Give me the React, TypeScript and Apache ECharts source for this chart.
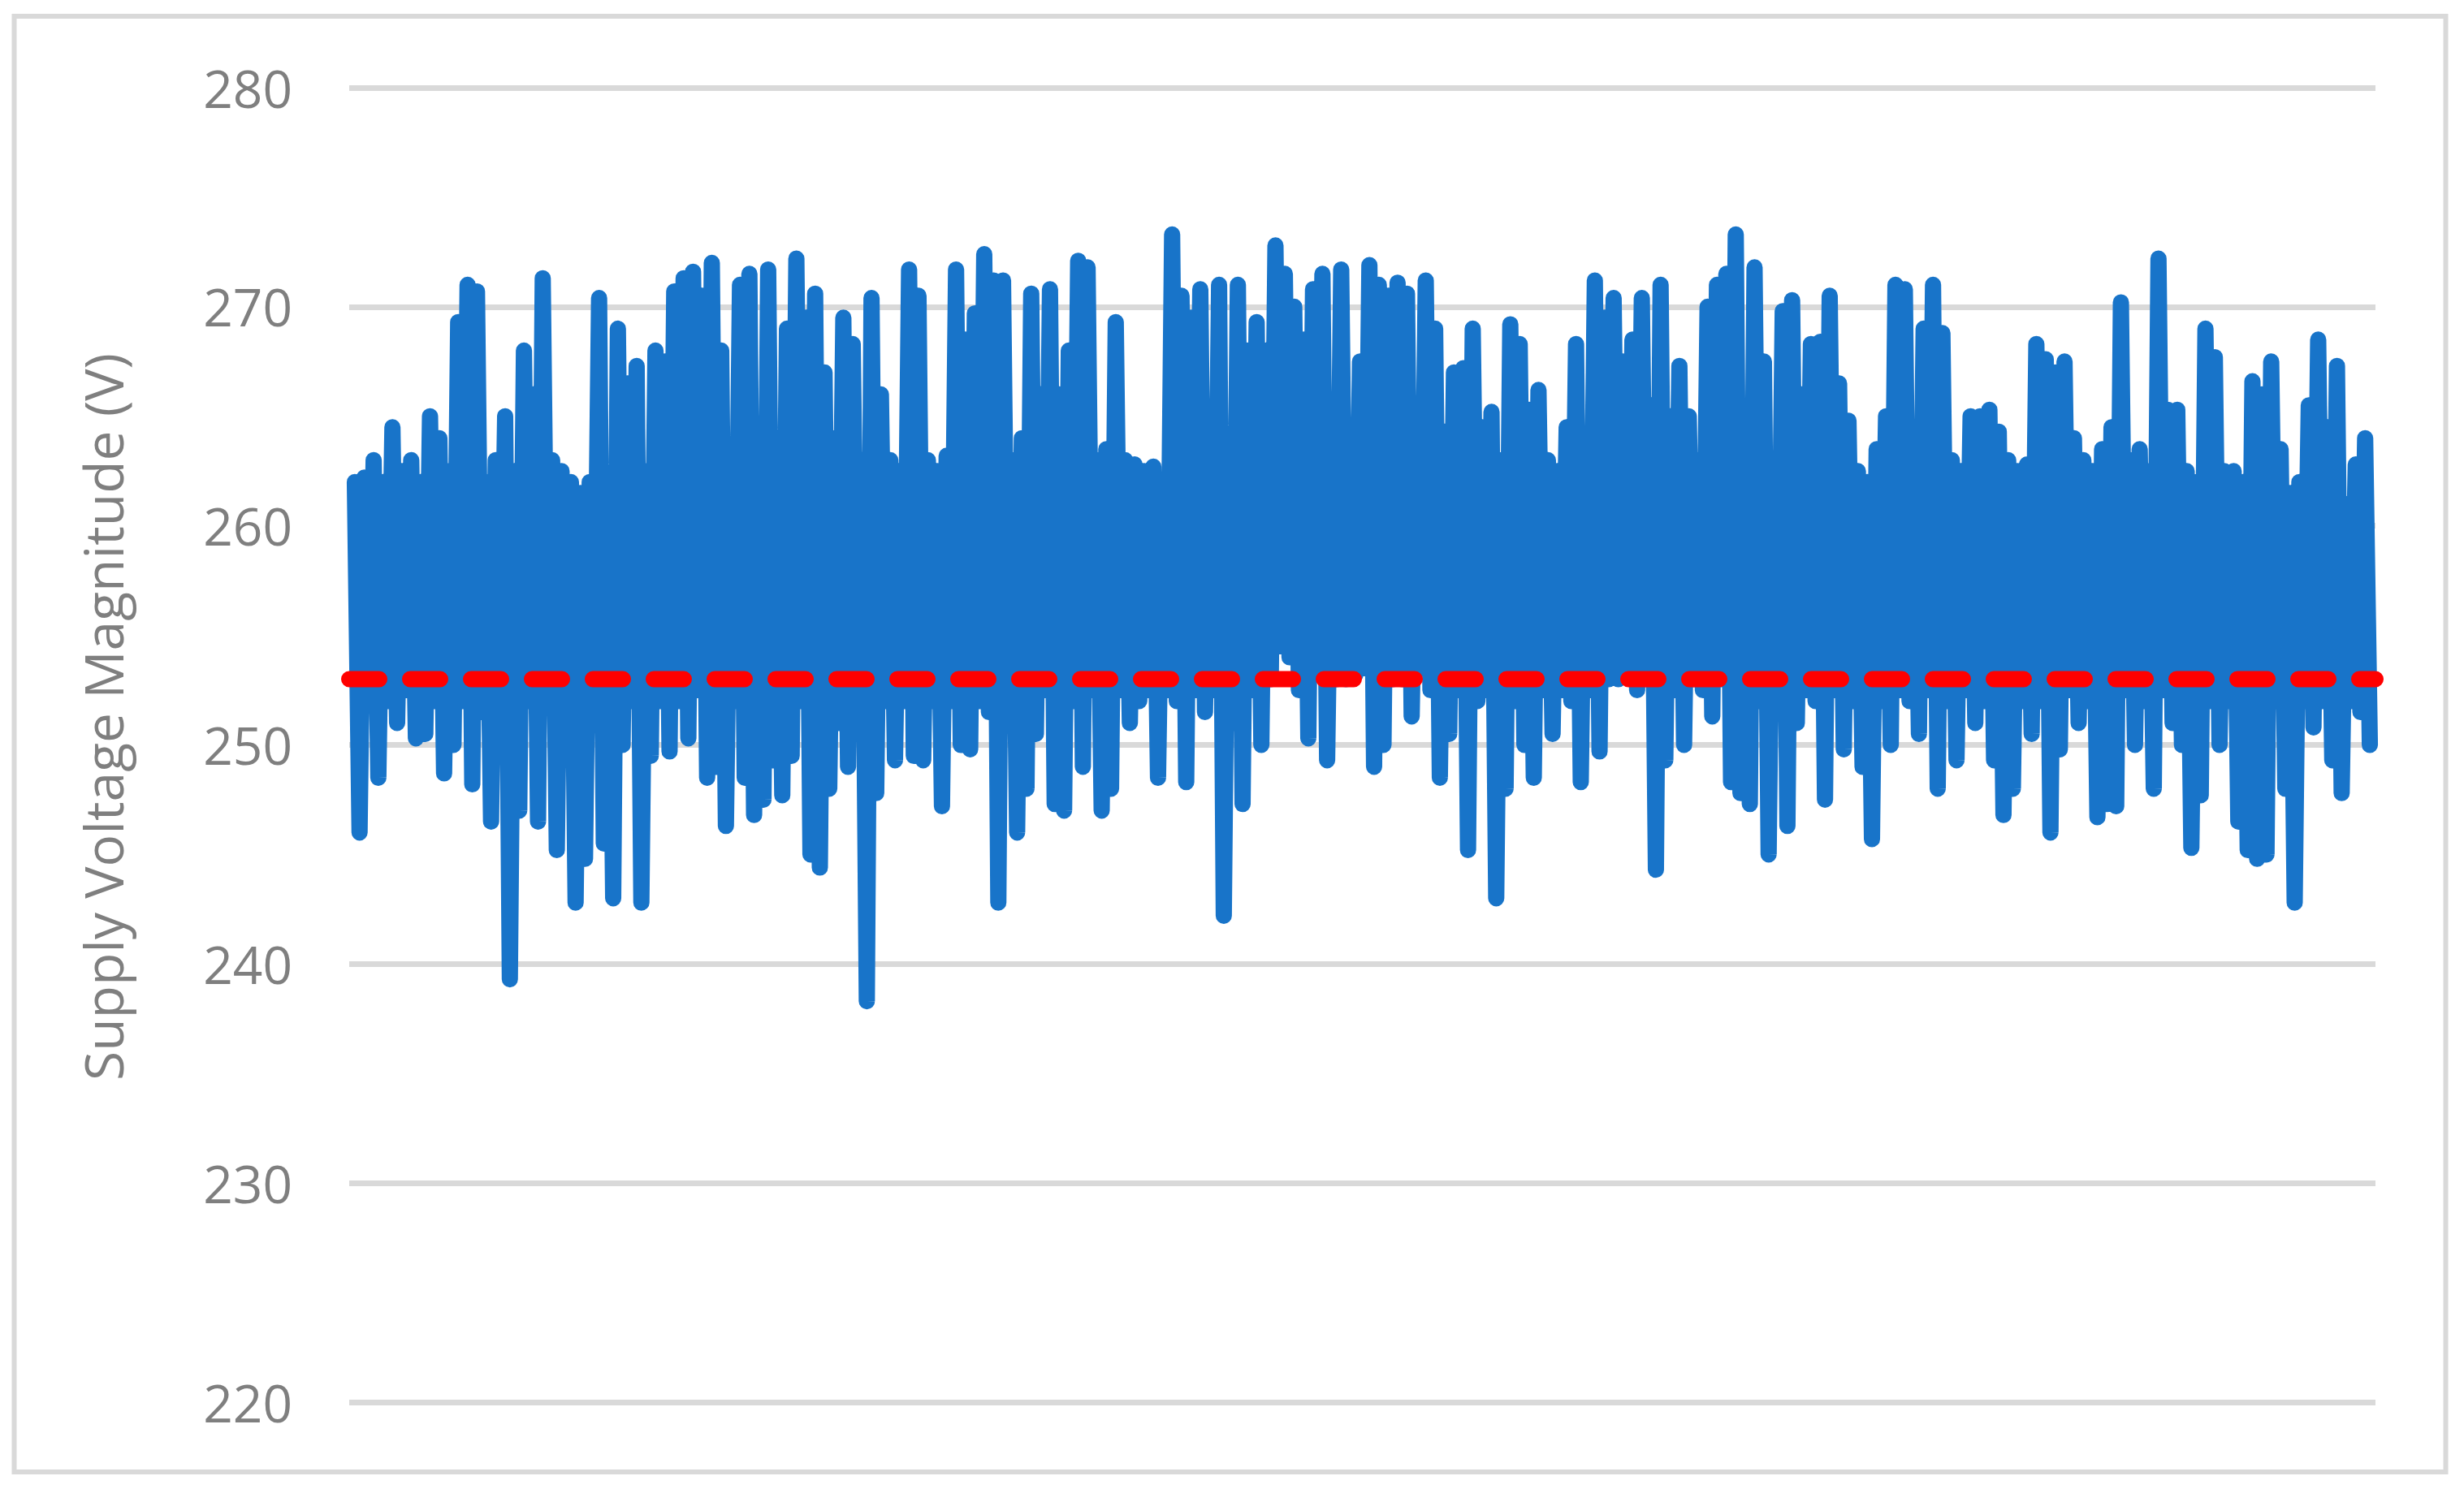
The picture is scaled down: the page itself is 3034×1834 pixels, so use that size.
import React, { useEffect, useRef } from "react";
import * as echarts from "echarts";

// Upper extremes of the oscillation, read left to right
const peaks: number[] = [
  262, 262.2, 263, 262, 264.5, 262.5, 263, 262, 265, 264,
  262.5, 269.3, 271, 270.7, 262, 263, 265, 262.5, 268, 266,
  271.3, 263, 262.5, 262, 261.5, 262, 270.4, 262, 269, 266.5,
  267.3, 262.5, 268, 267.5, 270.7, 271.3, 271.6, 270.5, 272, 268,
  262, 271, 271.5, 263, 271.7, 263, 269, 272.2, 269.5, 270.6,
  267, 264, 269.5, 268.3, 263, 270.4, 266, 263, 262.5, 271.7,
  270.5, 263, 262.5, 263.2, 271.7, 268.5, 269.7, 272.4, 271.2, 271.2,
  263, 264, 270.6, 266, 270.8, 266, 268, 272.1, 271.8, 263,
  263.5, 269.3, 263, 262.8, 262.5, 262.7, 262, 273.3, 270.5, 269.5,
  270.8, 264, 271, 264, 271, 268, 269.3, 268, 272.8, 271.5,
  270, 268.5, 270.8, 271.5, 264, 271.7, 263, 267.5, 271.9, 271,
  270.5, 271.1, 270.6, 263.5, 271.2, 269, 264.3, 267, 267.2, 269,
  264.5, 265.2, 263, 269.2, 268.3, 265.3, 266.2, 263, 262.5, 264.5,
  268.3, 263.5, 271.2, 269.5, 270.4, 267.5, 268.5, 270.4, 265.5, 271,
  265, 267.3, 265, 263, 270, 271, 271.5, 273.3, 263.5, 271.8,
  267.5, 263, 269.8, 270.3, 266, 268.3, 268.4, 270.5, 266.5, 264.8,
  262.5, 262, 263.5, 265, 271, 270.8, 263, 269, 271, 268.8,
  263, 262.5, 265, 265, 265.3, 264.3, 263, 262.5, 262.8, 268.3,
  267.6, 267, 267.5, 264, 263, 262.5, 263.5, 264.5, 270.2, 263,
  263.5, 262.5, 272.2, 265.3, 265.3, 262.5, 262, 269, 267.7, 262.5,
  262.5, 262, 266.6, 266, 267.5, 263.5, 261.5, 262, 265.5, 268.5,
  264.5, 267.3, 261, 262.8, 264,
];

// Lower extremes of the oscillation, read left to right
const troughs: number[] = [
  246, 252, 248.5, 252, 251, 252.5, 250.3, 250.5, 252, 248.7,
  250, 252, 248.2, 251.5, 246.5, 252, 239.3, 247, 252, 246.5,
  252, 245.2, 251.5, 242.8, 244.8, 252, 245.5, 243, 250, 252,
  242.8, 249.5, 252, 249.7, 252, 250.3, 252.5, 248.5, 249, 246.3,
  252, 248.5, 246.8, 247.5, 249.3, 247.7, 249.5, 252, 245, 244.4,
  248, 251, 249, 252, 238.3, 247.8, 252, 249.3, 252, 249.5,
  249.3, 252, 247.2, 252, 250, 249.8, 252, 251.5, 242.8, 252,
  246, 248, 250.5, 252.5, 247.3, 247, 252, 249, 252.5, 247,
  248, 252.5, 251, 252, 252.5, 248.5, 252.5, 252, 248.3, 252.5,
  251.5, 252.5, 242.2, 251, 247.3, 252.5, 250, 253, 254.5, 254,
  252.5, 250.3, 253.5, 249.3, 253, 253, 253.2, 253.5, 249, 250,
  253, 253, 251.3, 253.5, 252.5, 248.5, 250.5, 252.5, 245.2, 252,
  252.5, 243, 248, 252, 250, 248.5, 252.5, 250.5, 252.5, 252,
  248.3, 252.5, 249.7, 253, 253, 253.5, 252.5, 253, 244.3, 249.3,
  252.5, 250, 253, 252.5, 251.3, 253, 248.3, 247.8, 247.3, 252,
  245, 252, 246.3, 251, 252.5, 252, 247.5, 252.5, 249.8, 252,
  249, 245.7, 252, 250, 252.5, 252, 250.5, 252.5, 248, 252,
  249.3, 252.5, 251, 252, 249.3, 246.8, 248, 252, 250.5, 252,
  246, 249.8, 252.5, 251, 252, 246.7, 247.3, 247.2, 252.5, 250,
  252, 248, 252.5, 251, 250, 245.3, 247.7, 252, 250, 252,
  246.5, 245.2, 244.8, 245, 252, 248, 242.8, 252, 250.8, 252,
  249.3, 247.8, 252, 251.5, 250,
];

const threshold = 253;
const yMin = 220;
const yMax = 280;
const yStep = 10;
const axisTitle = "Supply Voltage Magnitude (V)";

const voltage: number[] = [];
peaks.forEach((p, i) => {
  voltage.push(p);
  voltage.push(troughs[i]);
});

export default function App() {
  const ref = useRef<HTMLDivElement>(null);
  useEffect(() => {
    if (!ref.current) return;
    const chart = echarts.init(ref.current, undefined, { renderer: "svg" });
    const N = voltage.length;
    const pad = 1.2;
    chart.setOption({
      animation: false,
      backgroundColor: "#ffffff",
      grid: { left: 430, right: 109, top: 108, bottom: 107, containLabel: false },
      xAxis: {
        type: "value",
        min: -pad,
        max: N - 1 + pad,
        show: false,
        splitLine: { show: false },
      },
      yAxis: {
        type: "value",
        min: yMin,
        max: yMax,
        interval: yStep,
        axisLine: { show: false },
        axisTick: { show: false },
        axisLabel: {
          margin: 70,
          fontSize: 64,
          fontFamily: "Open Sans",
          color: "#7f7f7f",
        },
        splitLine: { lineStyle: { color: "#d9d9d9", width: 7 } },
      },
      series: [
        {
          type: "line",
          data: voltage.map((v, i) => [i, v]),
          showSymbol: false,
          symbol: "none",
          lineStyle: { color: "#1874c9", width: 20, join: "round", cap: "round" },
          z: 2,
        },
        {
          type: "line",
          data: [[-pad, threshold], [N - 1 + pad, threshold]],
          showSymbol: false,
          symbol: "none",
          lineStyle: {
            color: "#ff0000",
            width: 20,
            type: [37, 38],
            cap: "round",
          },
          z: 3,
        },
      ],
      graphic: [
        {
          type: "rect",
          shape: { x: 17.5, y: 20, width: 2994, height: 1793 },
          style: { fill: "none", stroke: "#d9d9d9", lineWidth: 6 },
          z: 0,
        },
        {
          type: "text",
          x: 126,
          y: 883,
          rotation: Math.PI / 2,
          style: {
            text: axisTitle,
            fontSize: 66,
            fontFamily: "Open Sans",
            fill: "#7f7f7f",
            align: "center",
            verticalAlign: "middle",
          },
        },
      ],
    });
    return () => chart.dispose();
  }, []);
  return (
    <div
      ref={ref}
      style={{ position: "absolute", left: 0, top: 0, width: 3034, height: 1834 }}
    />
  );
}
